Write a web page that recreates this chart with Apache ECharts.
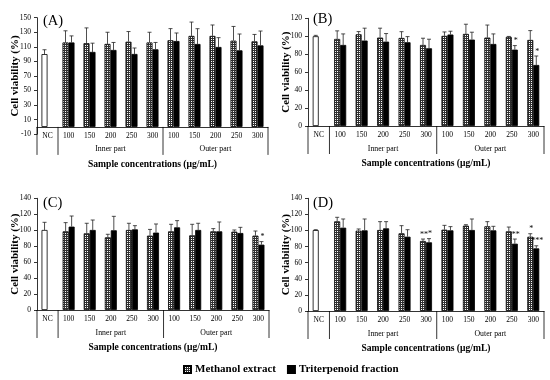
<!DOCTYPE html>
<html><head><meta charset="utf-8">
<script src="https://cdn.jsdelivr.net/npm/echarts@6/dist/echarts.min.js"></script>
<style>html,body{margin:0;padding:0;background:#fff}#c{width:550px;height:380px}</style>
</head><body><div id="c"></div>
<script>
// ---- data ----
var categories = ['NC','100','150','200','250','300','100','150','200','250','300'];
var groupLabels = ['Inner part','Outer part'];
var groupCenters = [3, 8];          // category index under which the group label sits
var groupBounds = [0, 1, 6, 11];    // category boundaries of the two-level axis
var panelNames = ['(A)','(B)','(C)','(D)'];

// Panel A
var mA   = [100, 116, 115, 114, 117, 116, 119, 125, 125, 118.5, 117.5];
var mAsd = [6, 16, 21, 16, 14, 14, 16, 19, 15, 19.5, 9.5];
var tA   = [null, 116, 103, 105.7, 100.2, 106.6, 118, 113.9, 109.8, 105.2, 112];
var tAsd = [null, 9, 12, 10.3, 8.2, 9.4, 11, 21, 12.8, 22.4, 19.7];
var mAstar = ['','','','','','','','','','',''];
var tAstar = ['','','','','','','','','','',''];
// Panel B
var mB   = [100, 97, 102.2, 98.5, 98.1, 90.3, 100.4, 102.6, 98.5, 99.3, 95.9];
var mBsd = [1, 9, 3, 10.5, 7, 7.5, 4.4, 10.8, 14, 0.5, 10.4];
var tB   = [null, 90.3, 95.2, 94, 93.3, 86.6, 101.9, 96.3, 91.4, 85.1, 68];
var tBsd = [null, 12.3, 13.8, 9, 6.3, 10.1, 3.7, 8.2, 11.2, 4.5, 10];
var mBstar = ['','','','','','','','','','',''];
var tBstar = ['','','','','','','','','','*','*'];
// Panel C
var mC   = [100.3, 98.6, 96.1, 91.1, 100.3, 93.2, 98.6, 93.6, 98.6, 98.2, 93.2];
var mCsd = [9.6, 10.9, 12.6, 3.8, 8.4, 7.8, 8.8, 13.8, 3.4, 2.1, 5.8];
var tC   = [null, 104.5, 100.3, 99.9, 101.1, 97, 103.6, 100.3, 98.6, 96.5, 81.9];
var tCsd = [null, 13.3, 12.5, 17.5, 4.6, 10.8, 8.4, 8.4, 11.7, 7.1, 3.8];
var mCstar = ['','','','','','','','','','',''];
var tCstar = ['','','','','','','','','','','*'];
// Panel D
var mD   = [100.5, 111.4, 99.8, 100.6, 96.5, 87, 101, 106, 105.2, 99, 92.3];
var mDsd = [0.5, 5, 2.1, 10.4, 9.5, 2.4, 5.4, 1.2, 5.8, 5.3, 3.7];
var tD   = [null, 103.5, 100.2, 102.7, 92.3, 85.3, 100.2, 100.6, 100.2, 83.6, 77.8];
var tDsd = [null, 10.8, 14.1, 8.3, 8.7, 4.6, 4.6, 13.7, 5, 5.8, 3.2];
var mDstar = ['','','','','','**','','','','','*'];
var tDstar = ['','','','','','*','','','','**','***'];

var yMin = [-10, 0, 0, 0];
var yMax = [150, 120, 140, 140];

var panels = [
  {m:mA, msd:mAsd, t:tA, tsd:tAsd, ms:mAstar, ts:tAstar},
  {m:mB, msd:mBsd, t:tB, tsd:tBsd, ms:mBstar, ts:tBstar},
  {m:mC, msd:mCsd, t:tC, tsd:tCsd, ms:mCstar, ts:tCstar},
  {m:mD, msd:mDsd, t:tD, tsd:tDsd, ms:mDstar, ts:tDstar}
];

// ---- styles ----
var FONT = '"Liberation Serif", "Times New Roman", serif';
var BAR_W = 6;
var grids = [
  {left:37, top:17.7, width:231, height:116.5},
  {left:308, top:18.3, width:236, height:107.7},
  {left:37, top:198.3, width:232, height:111.7},
  {left:308, top:198.3, width:236, height:112.7}
];
var titlePos = [[43,14],[313,12],[43,196],[313,196]];

var pc = document.createElement('canvas');
pc.width = 2; pc.height = 2;
var g = pc.getContext('2d');
g.fillStyle = '#333'; g.fillRect(0,0,2,2);
g.fillStyle = '#fff'; g.fillRect(1,1,1,1);
var meshColor = {image: pc, repeat: 'repeat'};

var option = {
  animation: false,
  backgroundColor: '#fff',
  title: [], grid: [], xAxis: [], yAxis: [], series: [],
  legend: {
    left: 178, top: 359, itemWidth: 7, itemHeight: 7, itemGap: 11,
    icon: 'rect', data: ['Methanol extract','Triterpenoid fraction'],
    textStyle: {fontFamily: FONT, fontSize: 11, fontWeight: 'bold', color: '#000', padding:[0,0,0,-1]}
  }
};

function errRender(params, api) {
  var idx = api.value(0), v = api.value(1), sd = api.value(2), slot = api.value(3);
  var star = api.value(4);
  var top = api.coord([idx, v]);
  var up = api.coord([idx, v + sd]);
  var x = top[0] + slot * BAR_W / 2;
  var children = [
    {type:'line', shape:{x1:x, y1:top[1], x2:x, y2:up[1]}, style:{stroke:'#222', lineWidth:0.8}},
    {type:'line', shape:{x1:x-2, y1:up[1], x2:x+2, y2:up[1]}, style:{stroke:'#222', lineWidth:0.8}}
  ];
  if (star) {
    children.push({type:'text', x: x + 1, y: up[1] - 0.5, style:{text: star, fill:'#000', font: '8px ' + FONT, align:'center', verticalAlign:'bottom'}});
  }
  return {type:'group', children: children};
}

panels.forEach(function (p, k) {
  option.grid.push(grids[k]);
  option.title.push({text: panelNames[k], left: titlePos[k][0], top: titlePos[k][1], padding: 0,
    textStyle: {fontFamily: FONT, fontSize: 14.5, fontWeight: 'normal', color: '#000'}});
  // place the category axis on the zero line of the value axis
  var zeroOffset = -grids[k].height * (0 - yMin[k]) / (yMax[k] - yMin[k]);
  option.xAxis.push({
    type:'category', gridIndex:k, data: categories, offset: zeroOffset,
    axisLine:{onZero:false, lineStyle:{color:'#000', width:0.8}},
    axisTick:{show:false},
    axisLabel:{interval:0, margin:5, fontFamily:FONT, fontSize:7.5, color:'#000'},
    name:'Sample concentrations (μg/mL)', nameLocation:'middle', nameGap:32.5,
    nameMoveOverlap:false,
    nameTextStyle:{fontFamily:FONT, fontSize:9.6, fontWeight:'bold', color:'#000'}
  });
  option.yAxis.push({
    type:'value', gridIndex:k, min:yMin[k], max:yMax[k], interval:20,
    splitLine:{show:false},
    axisLine:{show:true, onZero:false, lineStyle:{color:'#000', width:0.8}},
    axisTick:{show:true, length:3, lineStyle:{color:'#000', width:0.8}},
    axisLabel:{margin:6, fontFamily:FONT, fontSize:7.5, color:'#000'},
    name:'Cell viability (%)', nameLocation:'middle', nameGap:16.5,
    nameMoveOverlap:false,
    nameTextStyle:{fontFamily:FONT, fontSize:11, fontWeight:'bold', color:'#000'}
  });
  var mData = p.m.map(function (v, i) {
    return i === 0 ? {value: v, itemStyle: {color: '#fff'}} : v;
  });
  option.series.push({
    type:'bar', name:'Methanol extract', xAxisIndex:k, yAxisIndex:k, data: mData,
    barWidth: BAR_W, barGap:'0%',
    itemStyle:{color: meshColor, borderColor:'#000', borderWidth:0.8}
  });
  option.series.push({
    type:'bar', name:'Triterpenoid fraction', xAxisIndex:k, yAxisIndex:k,
    data: p.t.map(function (v) { return v == null ? '-' : v; }),
    barWidth: BAR_W, barGap:'0%',
    itemStyle:{color:'#000', borderColor:'#000', borderWidth:0.8}
  });
  var err = [];
  p.m.forEach(function (v, i) { if (v != null) err.push([i, v, p.msd[i], -1, p.ms[i]]); });
  p.t.forEach(function (v, i) { if (v != null) err.push([i, v, p.tsd[i], 1, p.ts[i]]); });
  option.series.push({
    type:'custom', xAxisIndex:k, yAxisIndex:k, data: err, renderItem: errRender,
    encode:{x:0, y:1}, z:5, silent:true
  });
  // two-level axis separators and group labels
  option.series.push({
    type:'custom', xAxisIndex:k, yAxisIndex:k, silent:true, z:5,
    data: groupBounds.map(function (b) { return [b]; }),
    renderItem: function (params, api) {
      var b = api.value(0);
      var band = api.size([1, 0])[0];
      var ci = Math.min(b, categories.length - 1);
      var c = api.coord([ci, 0]);
      var x = b >= categories.length ? c[0] + band / 2 : c[0] - band / 2;
      return {type:'line', shape:{x1:x, y1:c[1], x2:x, y2:c[1] + 28}, style:{stroke:'#000', lineWidth:0.8}};
    }
  });
  option.series.push({
    type:'custom', xAxisIndex:k, yAxisIndex:k, silent:true, z:5,
    data: groupCenters.map(function (ci) { return [ci]; }),
    renderItem: function (params, api) {
      var c = api.coord([api.value(0), 0]);
      return {type:'text', x: c[0], y: c[1] + 22.5,
        style:{text: groupLabels[params.dataIndex], fill:'#000', font:'7.8px ' + FONT, align:'center', verticalAlign:'middle'}};
    }
  });
});

var chart = echarts.init(document.getElementById('c'), null, {renderer:'canvas'});
chart.setOption(option);
</script></body></html>
